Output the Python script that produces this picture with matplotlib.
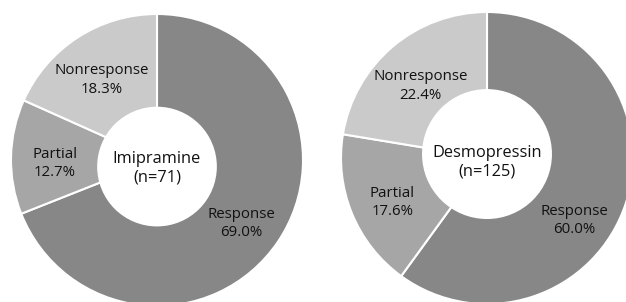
import matplotlib
matplotlib.use("Agg")
import matplotlib.pyplot as plt
from matplotlib.patches import Circle
import numpy as np

# data
categories = ["Response", "Partial", "Nonresponse"]
imipramine = [69.0, 12.7, 18.3]
desmopressin = [60.0, 17.6, 22.4]
titles = ["Imipramine\n(n=71)", "Desmopressin\n(n=125)"]
colors = ["#878787", "#a6a6a6", "#cacaca"]

plt.rcParams["font.family"] = ["Open Sans", "DejaVu Sans"]

fig = plt.figure(figsize=(6.26, 3.02), dpi=100)

# axes placed so that each donut sits where it does in the original
ax1 = fig.add_axes([11 / 626, -4 / 302, 292 / 626, 292 / 302])
ax2 = fig.add_axes([341 / 626, -2 / 302, 292 / 626, 292 / 302])


def donut(ax, values, title, hole_r, hole_dy, title_dy, moved=None):
    wedges, _ = ax.pie(
        values,
        colors=colors,
        startangle=90,
        counterclock=False,
        radius=1,
        wedgeprops=dict(edgecolor="white", linewidth=1.5),
    )
    # the hole in the original sits a bit off centre
    ax.add_patch(Circle((0, hole_dy), hole_r, facecolor="white",
                        edgecolor="none", zorder=3))
    moved = moved or {}
    for w, name, v in zip(wedges, categories, values):
        ang, r = moved.get(name, ((w.theta1 + w.theta2) / 2, 0.70))
        ang = np.deg2rad(ang)
        ax.text(r * np.cos(ang), r * np.sin(ang) - 0.04, f"{name}\n{v:.1f}%",
                ha="center", va="center", fontsize=10.8, color="#111111",
                linespacing=1.3, zorder=4)
    ax.text(0, title_dy, title, ha="center", va="center", fontsize=11.8,
            color="#111111", linespacing=1.25, zorder=4)
    ax.set_xlim(-1, 1)
    ax.set_ylim(-1, 1)
    ax.set_aspect("equal")
    ax.axis("off")


donut(ax1, imipramine, titles[0], 0.41, -0.045, -0.055)
# Response label on the right is pulled in from the figure edge
donut(ax2, desmopressin, titles[1], 0.445, 0.027, -0.03,
      moved={"Response": (-33, 0.71)})

fig.savefig("out.png", dpi=100)
